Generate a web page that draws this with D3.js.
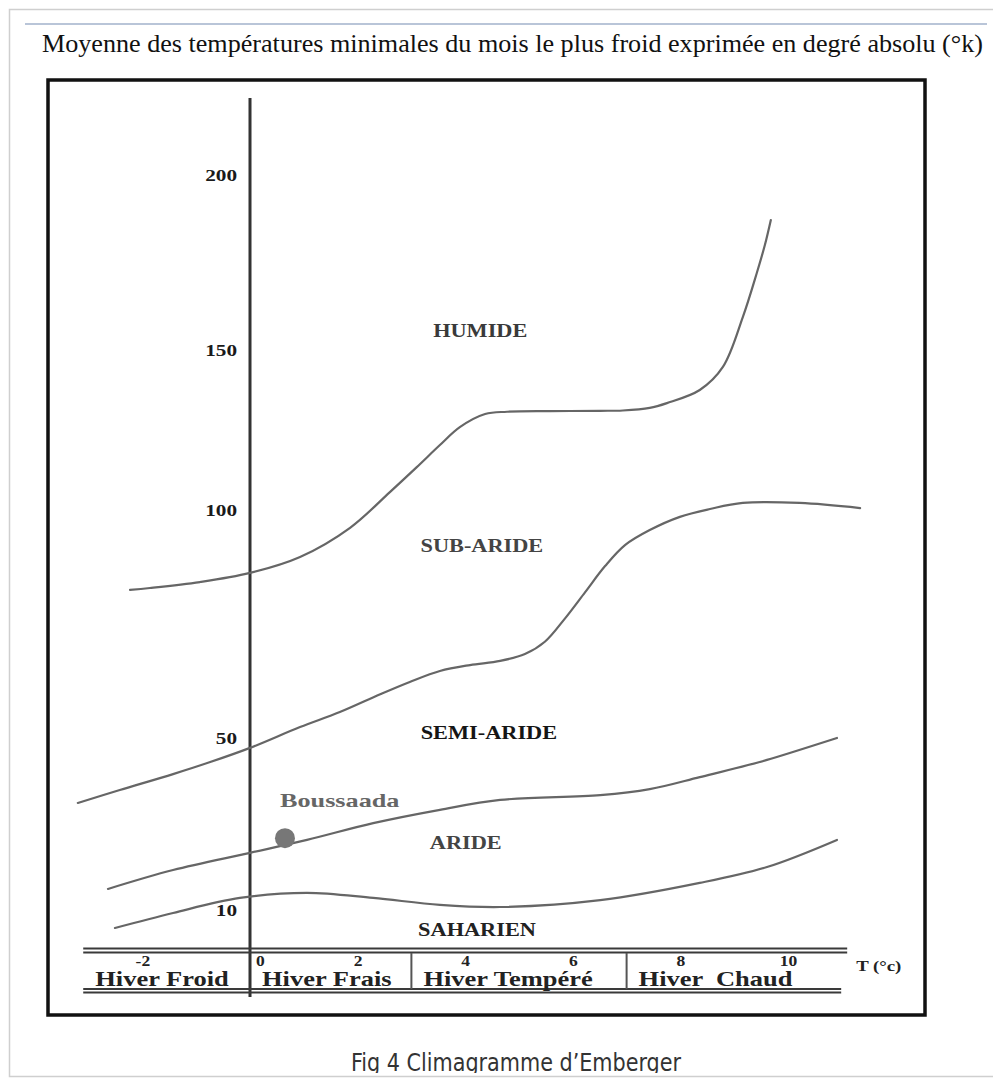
<!DOCTYPE html>
<html>
<head>
<meta charset="utf-8">
<script src="https://cdn.jsdelivr.net/npm/d3@7"></script>
<style>
html, body { margin: 0; padding: 0; background: #fff; }
svg { display: block; }
</style>
</head>
<body>
<svg id="chart" width="993" height="1084"></svg>
<script>
const width = 993;
const height = 1084;
const serif = '"Liberation Serif", "Times New Roman", serif';

// axis ticks
const xTicks = [-2, 0, 2, 4, 6, 8, 10];
const yTicks = [10, 50, 100, 150, 200];
const qTop = 222;

// winter classes along T (°c)
const winterNames = ['Hiver Froid', 'Hiver Frais', 'Hiver Tempéré', 'Hiver  Chaud'];
const winterEdges = [-3.1, 0, 3, 7, 11.1];

// bioclimatic limits, [T, Q2]
const humideLimit = [[-2.23, 82.5], [-1.86, 82.9], [-0.93, 84.2], [0, 86.2], [0.93, 89.7], [1.86, 96.1],
  [2.60, 105.6], [3.10, 113.4], [3.53, 120.3], [3.90, 125.9], [4.37, 130.0], [4.78, 130.7], [5.58, 130.9],
  [6.51, 131.0], [6.93, 131.1], [7.43, 131.9], [7.75, 133.4], [8.36, 137.5], [8.79, 144.7], [9.16, 159.4],
  [9.42, 172.0], [9.57, 180.0], [9.68, 187.1]];
const subArideLimit = [[-3.20, 34.9], [-2.42, 37.9], [-1.43, 41.6], [-0.74, 44.4], [0, 47.7], [0.93, 52.4],
  [1.67, 55.7], [2.42, 59.6], [2.97, 62.3], [3.53, 64.7], [4.09, 66.0], [4.65, 66.9], [5.11, 68.4],
  [5.48, 71.1], [5.86, 76.3], [6.23, 82.0], [6.60, 87.7], [6.97, 92.3], [7.43, 95.6], [7.99, 98.5],
  [8.55, 100.3], [9.16, 102.2], [10.22, 102.2], [11.34, 100.6]];
const semiArideLimit = [[-2.64, 14.9], [-1.43, 19.3], [0, 23.3], [1.06, 26.3], [2.29, 30.2], [3.53, 33.3],
  [4.65, 35.6], [6.51, 36.7], [7.43, 38.1], [8.36, 40.9], [9.61, 44.9], [10.91, 50.0]];
const arideLimit = [[-2.51, 5.5], [-1.43, 9.25], [-0.19, 12.8], [1.06, 14.0], [2.29, 12.8], [3.53, 11.2],
  [4.65, 10.7], [6.51, 12.3], [8.36, 16.3], [9.61, 20.0], [10.91, 26.3]];

// zone labels
const zoneNames = ['HUMIDE', 'SUB-ARIDE', 'SEMI-ARIDE', 'ARIDE', 'SAHARIEN'];
const zoneT = [4.28, 4.31, 4.44, 4.01, 4.22];
const zoneQ = [155.4, 92.1, 51.1, 25.6, 5.0];
const zoneColors = ['#3a3a3a', '#444', '#151515', '#444', '#222'];

// station
const stationName = 'Boussaada';
const stationT = 0.65;
const stationQ = 26.7;

const titleText = 'Moyenne des températures minimales du mois le plus froid exprimée en degré absolu (°k)';
const captionText = 'Fig 4 Climagramme d\u2019Emberger';

const svg = d3.select('#chart');

// x is regular, the drawn Q2 axis is not, so it is piecewise
const x = d3.scaleLinear().domain([0, 10]).range([250, 788]);
const y = d3.scaleLinear()
    .domain([0, 10, 50, 100, 150, 200])
    .range([950, 910, 738, 510, 350, 175]);

// stretch scanned text horizontally like the original
function stretch(sel, k) {
    sel.each(function() {
        const w = this.getComputedTextLength();
        d3.select(this).attr('textLength', w * k).attr('lengthAdjust', 'spacingAndGlyphs');
    });
}

// page border and blue rule
svg.append('rect')
    .attr('x', 9.5).attr('y', 9.5)
    .attr('width', 995).attr('height', 1067)
    .attr('fill', 'none').attr('stroke', '#cfcfcf').attr('stroke-width', 1.5);
svg.append('line')
    .attr('x1', 25).attr('x2', 987).attr('y1', 24).attr('y2', 24)
    .attr('stroke', '#b9c5d8').attr('stroke-width', 2);

// title
svg.append('text')
    .attr('x', 42).attr('y', 52)
    .attr('font-family', serif).attr('font-size', 26).attr('fill', '#111')
    .attr('textLength', 941).attr('lengthAdjust', 'spacingAndGlyphs')
    .text(titleText);

// frame
svg.append('rect')
    .attr('x', 48).attr('y', 80)
    .attr('width', 877).attr('height', 935)
    .attr('fill', 'none').attr('stroke', '#111').attr('stroke-width', 3.5);

// Q2 axis line
svg.append('line')
    .attr('x1', x(0)).attr('x2', x(0))
    .attr('y1', y(qTop)).attr('y2', 997)
    .attr('stroke', '#333').attr('stroke-width', 3);

// winter band: double rules top and bottom
const xs = winterEdges[0], xe = winterEdges[winterEdges.length - 1];
[948.5, 952.5, 989, 992.5].forEach(yy => {
    svg.append('line')
        .attr('x1', x(xs)).attr('x2', x(xe) - (yy > 980 ? 6 : 0))
        .attr('y1', yy).attr('y2', yy)
        .attr('stroke', '#3a3a3a').attr('stroke-width', 2);
});
svg.selectAll('.sep')
    .data(winterEdges.slice(2, -1))
    .enter().append('line')
    .attr('class', 'sep')
    .attr('x1', d => x(d)).attr('x2', d => x(d))
    .attr('y1', 953).attr('y2', 989)
    .attr('stroke', '#555').attr('stroke-width', 2);

const winterLabels = svg.selectAll('.winter')
    .data(winterNames)
    .enter().append('text')
    .attr('class', 'winter')
    .attr('x', (d, i) => x(winterEdges[i]) + 12)
    .attr('y', 986)
    .attr('font-family', serif).attr('font-size', 21).attr('font-weight', 'bold')
    .attr('fill', '#222')
    .style('white-space', 'pre')
    .text(d => d);
stretch(winterLabels, 1.26);

// x ticks
const gx = svg.append('g')
    .attr('transform', 'translate(0,951)')
    .call(d3.axisBottom(x).tickValues(xTicks).tickFormat(d => String(d)).tickSize(0).tickPadding(5));
gx.select('.domain').remove();
gx.selectAll('text')
    .attr('font-family', serif).attr('font-size', 14).attr('font-weight', 'bold')
    .attr('fill', '#222')
    .attr('dx', d => d === 0 ? '0.7em' : 0);
stretch(gx.selectAll('text'), 1.25);

svg.append('text')
    .attr('x', x(xe) + 9).attr('y', 971)
    .attr('font-family', serif).attr('font-size', 15).attr('font-weight', 'bold')
    .attr('fill', '#222')
    .text('T (°c)')
    .call(stretch, 1.25);

// y ticks
const gy = svg.append('g')
    .attr('transform', `translate(${x(0)},0)`)
    .call(d3.axisLeft(y).tickValues(yTicks).tickSize(0).tickPadding(13));
gy.select('.domain').remove();
gy.selectAll('text')
    .attr('font-family', serif).attr('font-size', 17).attr('font-weight', 'bold')
    .attr('fill', '#1a1a1a');
stretch(gy.selectAll('text'), 1.25);

// limits
const line = d3.line()
    .x(d => x(d[0]))
    .y(d => y(d[1]))
    .curve(d3.curveCatmullRom.alpha(0.5));

svg.selectAll('.limit')
    .data([humideLimit, subArideLimit, semiArideLimit, arideLimit])
    .enter().append('path')
    .attr('class', 'limit')
    .attr('d', line)
    .attr('fill', 'none')
    .attr('stroke', '#666')
    .attr('stroke-width', 2.2)
    .attr('stroke-linecap', 'round');

// zone names
const zones = svg.selectAll('.zone')
    .data(zoneNames)
    .enter().append('text')
    .attr('class', 'zone')
    .attr('x', (d, i) => x(zoneT[i]))
    .attr('y', (d, i) => y(zoneQ[i]))
    .attr('dy', '0.35em')
    .attr('text-anchor', 'middle')
    .attr('font-family', serif).attr('font-size', 18).attr('font-weight', 'bold')
    .attr('fill', (d, i) => zoneColors[i])
    .text(d => d);
stretch(zones, 1.24);

// station
svg.append('circle')
    .attr('cx', x(stationT)).attr('cy', y(stationQ))
    .attr('r', 10)
    .attr('fill', '#777');
svg.append('text')
    .attr('x', x(stationT) - 5).attr('y', y(stationQ) - 38)
    .attr('dy', '0.35em')
    .attr('font-family', serif).attr('font-size', 19).attr('font-weight', 'bold')
    .attr('fill', '#666')
    .text(stationName)
    .call(stretch, 1.38);

// caption, cut by the page edge like the scan
svg.append('clipPath').attr('id', 'cut')
    .append('rect').attr('x', 0).attr('y', 1030).attr('width', width).attr('height', 43);
svg.append('text')
    .attr('clip-path', 'url(#cut)')
    .attr('x', 516).attr('y', 1071)
    .attr('text-anchor', 'middle')
    .attr('font-family', '"Liberation Sans Narrow", "DejaVu Sans Condensed", "Liberation Sans", sans-serif')
    .attr('font-size', 24).attr('fill', '#333')
    .attr('textLength', 330).attr('lengthAdjust', 'spacingAndGlyphs')
    .text(captionText);
</script>
</body>
</html>
